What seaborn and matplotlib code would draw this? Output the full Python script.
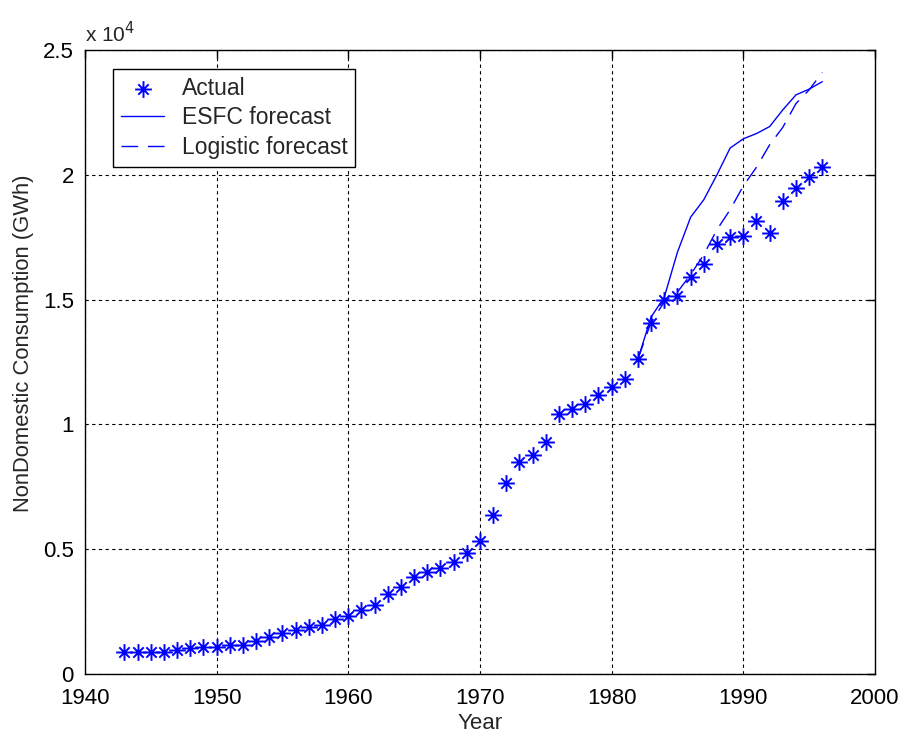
import matplotlib
matplotlib.use("Agg")
import matplotlib.pyplot as plt
import seaborn as sns
import pandas as pd
from matplotlib.path import Path
from matplotlib.ticker import FuncFormatter

# ---------------- data ----------------
years_actual = list(range(1943, 1997))
actual = [870, 870, 870, 870, 960, 1030, 1090, 1090, 1160, 1160,
          1330, 1470, 1630, 1760, 1890, 1960, 2200, 2320, 2560, 2760,
          3200, 3490, 3870, 4070, 4230, 4490, 4850, 5320, 6360, 7650,
          8500, 8760, 9300, 10400, 10600, 10800, 11170, 11500, 11800, 12620,
          14070, 15000, 15160, 15900, 16420, 17220, 17510, 17550, 18160, 17670,
          18960, 19480, 19920, 20300]

years_fc = list(range(1982, 1997))
esfc = [12620, 14300, 15100, 16900, 18300, 19000, 20000, 21070, 21440,
        21650, 21930, 22600, 23200, 23430, 23730]
logistic = [12620, 14100, 14900, 15300, 16000, 16800, 17800, 18600, 19550,
            20300, 21200, 21900, 22850, 23400, 24100]

x_ticks = [1940, 1950, 1960, 1970, 1980, 1990, 2000]
y_ticks = [0, 5000, 10000, 15000, 20000, 25000]

df_act = pd.DataFrame({"Year": years_actual, "Value": actual})
df_fc = pd.DataFrame({"Year": years_fc, "ESFC": esfc, "Logistic": logistic})

# ---------------- style ----------------
sns.set_style("white")
plt.rcParams["font.family"] = ["Liberation Sans", "DejaVu Sans"]

fig = plt.figure(figsize=(9.01, 7.39), dpi=100)
ax = fig.add_axes([0.0943, 0.088, 0.8768, 0.8444])

blue = (0, 0, 1)

# MATLAB-like asterisk: '+' with shorter 'x'
d = 0.62
star_path = Path(
    [(-1, 0), (1, 0), (0, -1), (0, 1), (-d, -d), (d, d), (-d, d), (d, -d)],
    [Path.MOVETO, Path.LINETO] * 4,
)

sns.scatterplot(data=df_act, x="Year", y="Value", ax=ax, marker=star_path,
                s=145, color=blue, edgecolor=blue, linewidth=1.4,
                label="Actual", zorder=3)
sns.lineplot(data=df_fc, x="Year", y="ESFC", ax=ax, color=blue,
             linewidth=1.0, label="ESFC forecast", zorder=2)
sns.lineplot(data=df_fc, x="Year", y="Logistic", ax=ax, color=blue,
             linewidth=1.0, label="Logistic forecast", zorder=2)
ax.lines[-1].set_dashes((12, 7))

ax.set_xlim(1940, 2000)
ax.set_ylim(0, 25000)
ax.set_xticks(x_ticks)
ax.set_yticks(y_ticks)
ax.yaxis.set_major_formatter(FuncFormatter(lambda v, p: "%g" % (v / 1e4)))

ax.grid(True, color="black", linestyle=(0, (3, 3)), linewidth=0.8)
ax.set_axisbelow(True)
for s in ax.spines.values():
    s.set_color("black")
    s.set_linewidth(1.0)

ax.tick_params(axis="both", direction="in", length=6, width=1, colors="black",
               labelsize=16, top=True, right=True)
ax.tick_params(axis="x", pad=10)
ax.tick_params(axis="y", pad=8)
ax.set_xlabel("Year", fontsize=16, labelpad=3)
ax.set_ylabel("NonDomestic Consumption (GWh)", fontsize=15.8)
ax.yaxis.set_label_coords(-0.064, 0.530)

ax.text(0.0, 1.006, r"x 10$^{4}$", transform=ax.transAxes, fontsize=15,
        ha="left", va="bottom")

leg = ax.legend(loc="upper left", bbox_to_anchor=(0.0354, 0.9696),
                borderaxespad=0, frameon=True, fancybox=False, fontsize=16.5,
                handlelength=1.9, labelspacing=0.28, borderpad=0.35,
                handletextpad=0.75)
leg.get_frame().set_edgecolor("black")
leg.get_frame().set_linewidth(1.0)
leg.get_frame().set_alpha(1)

fig.savefig("out.png", dpi=100, facecolor="white")
